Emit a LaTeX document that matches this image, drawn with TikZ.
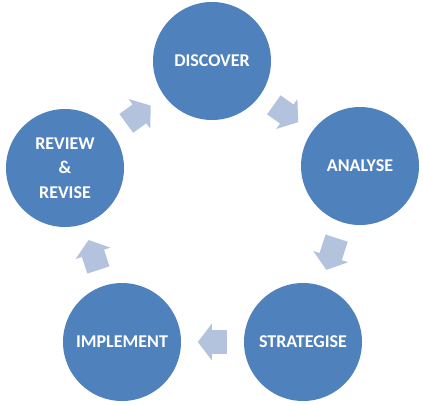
\documentclass[tikz,border=0pt]{standalone}
\usepackage{fontspec}
\setmainfont{Carlito}
\usetikzlibrary{arrows.meta}
\definecolor{phaseblue}{HTML}{4F81BD}
\definecolor{flowblue}{HTML}{B3C3DD}
\tikzset{
	phase/.style={circle, fill=phaseblue, minimum size=88.5pt, inner sep=0pt, text=white, align=center, font=\fontsize{13.5}{18.4}\selectfont\bfseries},
	flow/.style={draw=flowblue, line width=17.5pt, -{Triangle[length=10.5pt, width=27pt]}, shorten >=12.4pt, shorten <=12.4pt}
}
\begin{document}
\begin{tikzpicture}[x=0.75pt, y=-0.75pt]
	\useasboundingbox (0, 0) rectangle (423, 404);
	% Phases
	\node [phase] (disc) at (212, 61) {DISCOVER};
	\node [phase] (anal) at (360, 166) {ANALYSE};
	\node [phase] (strat) at (303, 342) {STRATEGISE};
	\node [phase] (impl) at (122, 342) {IMPLEMENT};
	\node [phase] (rev) at (65, 168) {REVIEW\\\&\\REVISE};
	% Arrows
	\foreach \a/\b in {disc/anal, anal/strat, strat/impl, impl/rev, rev/disc}
		\draw [flow] (\a) -- (\b);
\end{tikzpicture}
\end{document}
